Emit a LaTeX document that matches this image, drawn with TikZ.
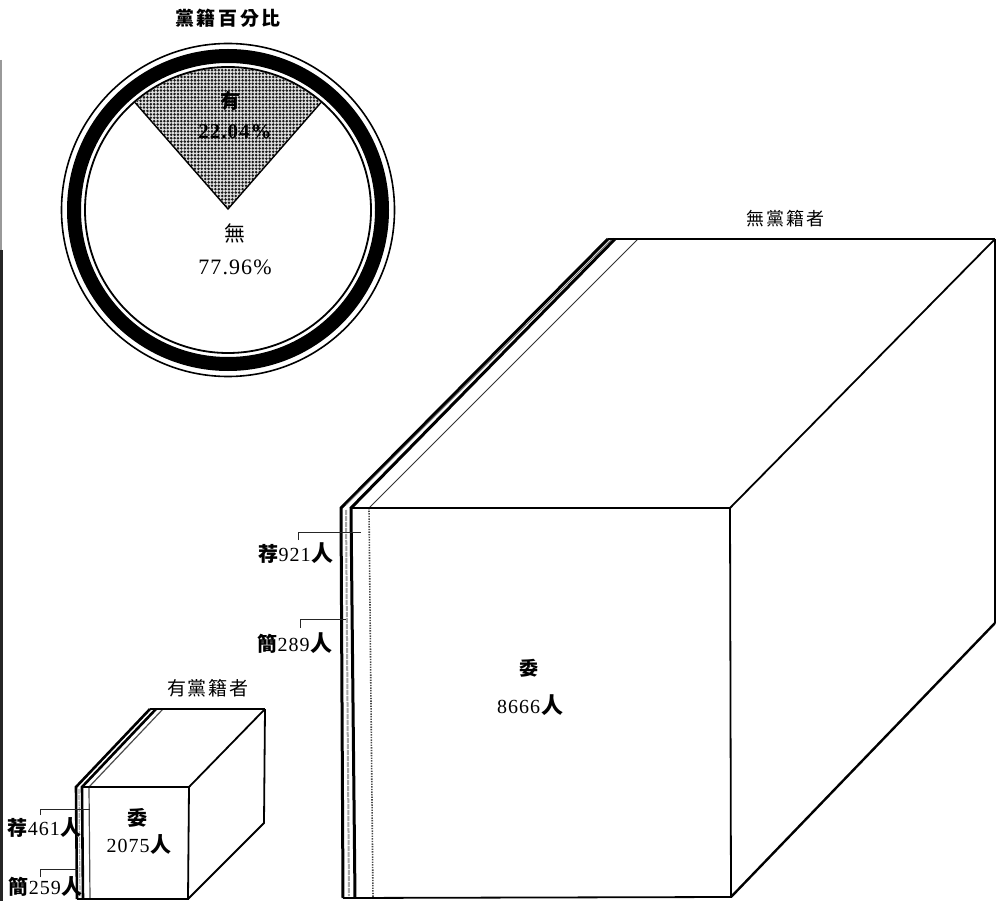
\documentclass[tikz,border=0pt]{standalone}
\usepackage{fontspec}
\setmainfont{Liberation Serif}[LetterSpace=5]
\newfontfamily\cjk{Noto Sans CJK TC}
\usetikzlibrary{patterns}
\pgfdeclarepatternformonly{halftone}{\pgfqpoint{-1pt}{-1pt}}{\pgfqpoint{3.4pt}{3.4pt}}{\pgfqpoint{3.4pt}{3.4pt}}{%
  \pgfpathcircle{\pgfqpoint{1.2pt}{1.2pt}}{1.4pt}\pgfusepath{fill}}
\tikzset{
  txt/.style={inner sep=0pt,outer sep=0pt,text=black,font=\fontsize{20}{22}\selectfont},
  thickln/.style={line width=3pt,black},
  edge/.style={line width=1.8pt,black},
  thinln/.style={line width=1pt,black!80},
  dots/.style={line width=1.6pt,black!70,dash pattern=on 1.4pt off 1.2pt},
  midln/.style={line width=2pt,black!35,dash pattern=on 5pt off 1pt},
  leader/.style={line width=.8pt,black!85},
}
\begin{document}
\begin{tikzpicture}[x=1pt,y=-1pt]
\fill[white] (0,0) rectangle (999,901);
\useasboundingbox (0,0) rectangle (999,901);
% scan edge
\draw[line width=2pt,black!40] (1,60) -- (1,250);
\draw[line width=3.4pt,black!85] (1,250) -- (1,901);

% ---- pie
\coordinate (pc) at (228,210);
\coordinate (apex) at (228,209);
\begin{scope}
  \clip (pc) circle[radius=142pt];
  \fill[black!12] (apex) -- (42,-4) -- (414,-4) -- cycle;
  \fill[pattern=halftone,pattern color=black!90] (apex) -- (42,-4) -- (414,-4) -- cycle;
  \draw[line width=1.4pt,black] (42,-4) -- (apex) -- (414,-4);
\end{scope}
\draw[line width=1.6pt] (pc) circle[radius=166.5pt];
\draw[line width=14pt] (pc) circle[radius=154pt];
\draw[line width=1.8pt] (pc) circle[radius=143pt];
\node[txt] (title) at (228,18) {\cjk\bfseries\fontsize{19}{21}\selectfont 黨\kern2.6pt 籍\kern2.6pt 百\kern2.6pt 分\kern2.6pt 比};
\node[txt] (you) at (230,101) {\cjk\bfseries\fontsize{20}{22}\selectfont 有};
\node[txt] (youp) at (235,132) {\bfseries\fontsize{21}{23}\selectfont 22.04\%};
\node[txt] (wu) at (235,233) {\cjk\fontsize{21}{23}\selectfont 無};
\node[txt] (wup) at (235,267) {\fontsize{22}{24}\selectfont 77.96\%};

% ---- large box
\coordinate (LA) at (341,508);
\coordinate (LB) at (351,508);
\coordinate (LC) at (369,508);
\coordinate (LD) at (730,508);
\coordinate (LE) at (731,897);
\coordinate (LF) at (343,898);
\coordinate (LG) at (355,898);
\coordinate (LH) at (373,898);
\coordinate (LI) at (608,239);
\coordinate (LJ) at (615,239);
\coordinate (LK) at (638,239);
\coordinate (LM) at (995,239);
\coordinate (LN) at (995,623);
\draw[midln] (346,510) -- (349,896);
\draw[thickln] (LF) -- (LA) -- (LI);
\draw[thickln] (LG) -- (LB) -- (LJ);
\draw[line width=1pt,black!55] (346,505) -- (612,239);
\draw[dots] (LC) -- (LH);
\draw[thinln] (LC) -- (LK);
\draw[edge] (LB) -- (LD) -- (LE) -- (LF);
\draw[edge] (LI) -- (LM);
\draw[edge] (LD) -- (LM);
\draw[line width=2.8pt] (LM) -- (LN);
\draw[line width=2.4pt] (LN) -- (LE);

\node[txt] (lt) at (785,219) {\cjk\fontsize{18}{20}\selectfont 無\kern2pt 黨\kern2pt 籍\kern2pt 者};
\node[txt] (lw) at (529,668) {\cjk\bfseries\fontsize{19}{21}\selectfont 委};
\node[txt] (ln) at (530,705) {8666\kern1pt{\cjk\bfseries\fontsize{22}{24}\selectfont 人}};
\node[txt] (lj) at (296,553) {{\cjk\bfseries\fontsize{20}{22}\selectfont 荐}921\kern1pt{\cjk\bfseries\fontsize{22}{24}\selectfont 人}};
\node[txt] (ls) at (295,643) {{\cjk\bfseries\fontsize{20}{22}\selectfont 簡}289\kern1pt{\cjk\bfseries\fontsize{22}{24}\selectfont 人}};
\coordinate (lj1) at (361,532);
\coordinate (ls1) at (346,619);
\draw[leader] (298,540) |- (lj1);
\draw[leader] (300,628) |- (ls1);

% ---- small box
\coordinate (SA) at (76,787);
\coordinate (SB) at (82,787);
\coordinate (SC) at (89,787);
\coordinate (SD) at (189,787);
\coordinate (SE) at (188,899);
\coordinate (SF) at (77,899);
\coordinate (SG) at (83,899);
\coordinate (SH) at (90,899);
\coordinate (SI) at (150,709);
\coordinate (SJ) at (156,709);
\coordinate (SK) at (163,709);
\coordinate (SM) at (265,709);
\coordinate (SN) at (264,823);
\draw[midln,line width=1.2pt] (79,789) -- (80,897);
\draw[thickln,line width=2.6pt] (SF) -- (SA) -- (SI);
\draw[thickln,line width=2.6pt] (SG) -- (SB) -- (SJ);
\draw[line width=1.2pt,black!70] (SC) -- (SK);
\draw[line width=1.2pt,black!70] (SC) -- (SH);
\draw[edge] (SB) -- (SD) -- (SE) -- (SF);
\draw[edge] (SI) -- (SM);
\draw[edge] (SD) -- (SM);
\draw[edge] (SM) -- (SN) -- (SE);

\node[txt] (st) at (208,688) {\cjk\fontsize{19}{21}\selectfont 有\kern2pt 黨\kern2pt 籍\kern2pt 者};
\node[txt] (sw) at (137,818) {\cjk\bfseries\fontsize{20}{22}\selectfont 委};
\node[txt] (sn) at (139,845) {2075\kern1pt{\cjk\bfseries\fontsize{21}{23}\selectfont 人}};
\node[txt] (sj) at (45,828) {{\cjk\bfseries\fontsize{20}{22}\selectfont 荐}461\kern1pt{\cjk\bfseries\fontsize{21}{23}\selectfont 人}};
\node[txt] (ss) at (46,887) {{\cjk\bfseries\fontsize{20}{22}\selectfont 簡}259\kern1pt{\cjk\bfseries\fontsize{21}{23}\selectfont 人}};
\coordinate (sj1) at (90,809);
\coordinate (ss1) at (78,869);
\draw[leader] (40,815) |- (sj1);
\draw[leader] (40,877) |- (ss1);
\end{tikzpicture}
\end{document}
